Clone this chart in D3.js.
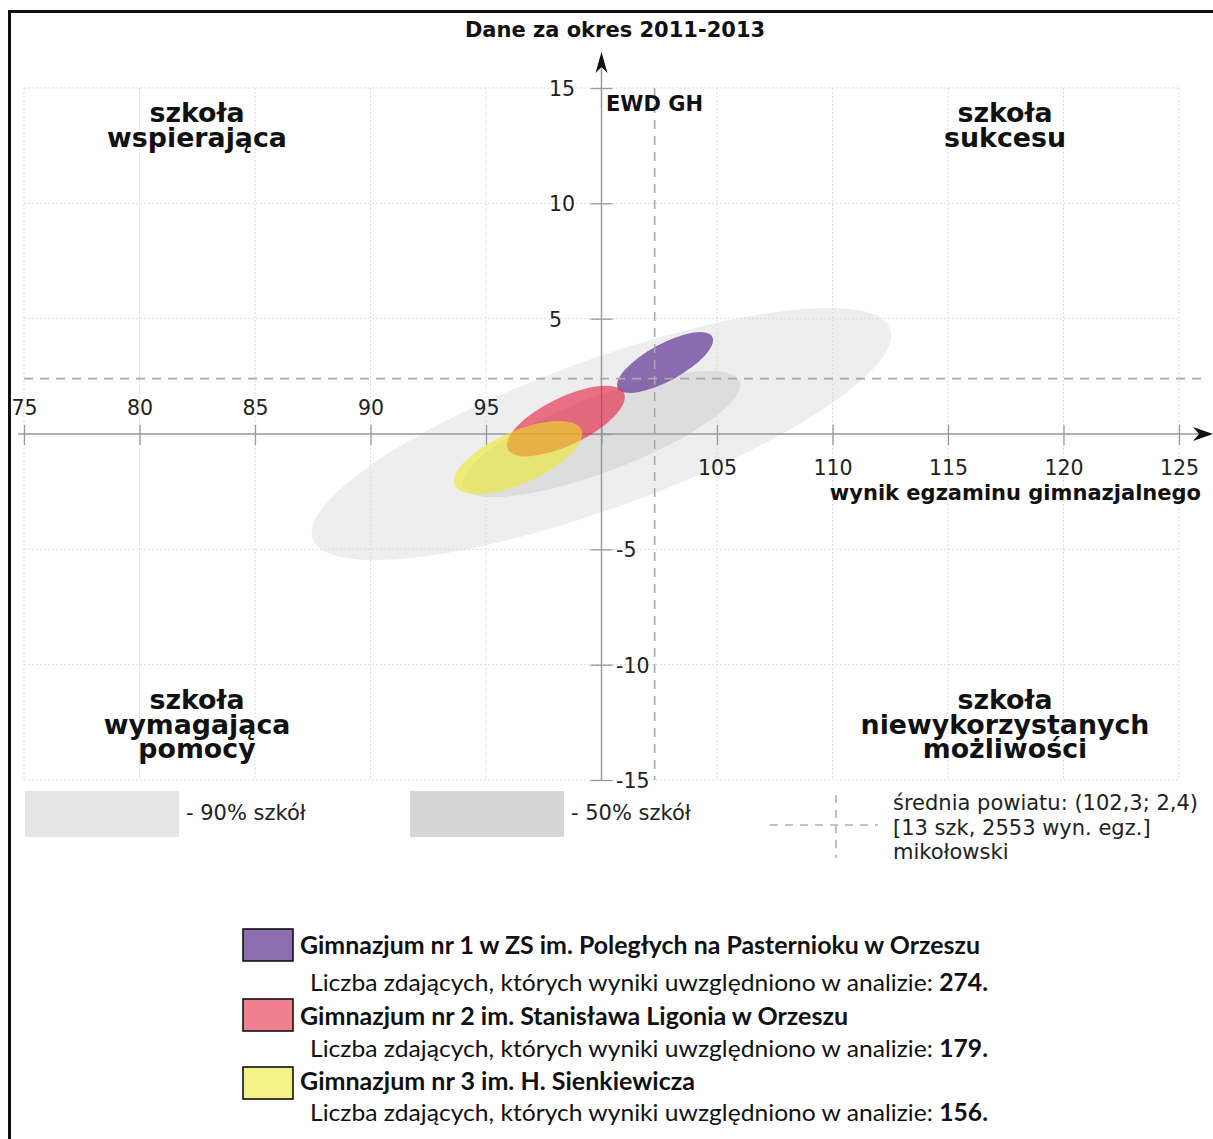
<!DOCTYPE html>
<html>
<head>
<meta charset="utf-8">
<script src="https://cdn.jsdelivr.net/npm/d3@7"></script>
<style>
  html, body { margin: 0; padding: 0; background: #fff; }
  svg { display: block; }
</style>
</head>
<body>
<div id="chart"></div>
<script>
// ---------- DATA ----------
const title = "Dane za okres 2011-2013";
const xAxisLabel = "wynik egzaminu gimnazjalnego";
const yAxisLabel = "EWD GH";
const xTickValues = [75, 80, 85, 90, 95, 100, 105, 110, 115, 120, 125];
const yTickValues = [-15, -10, -5, 0, 5, 10, 15];
const quadrantLabels = [
  { lines: ["szkoła", "wspierająca"], qx: -1, qy: 1 },
  { lines: ["szkoła", "sukcesu"], qx: 1, qy: 1 },
  { lines: ["szkoła", "wymagająca", "pomocy"], qx: -1, qy: -1 },
  { lines: ["szkoła", "niewykorzystanych", "możliwości"], qx: 1, qy: -1 }
];
// reference ellipses (all schools) : center, semi-axes (data units), rotation (deg)
const bandNames   = ["- 90% szkół", "- 50% szkół"];
const bandCx      = [100, 100];
const bandCy      = [0, 0];
const bandA       = [13.3, 6.4];
const bandB       = [3.2, 1.62];
const bandAngle   = [20, 20.8];
// schools
const schoolNames  = [
  "Gimnazjum nr 1 w ZS im. Poległych na Pasternioku w Orzeszu",
  "Gimnazjum nr 2 im. Stanisława Ligonia w Orzeszu",
  "Gimnazjum nr 3 im. H. Sienkiewicza"
];
const schoolCounts = [274, 179, 156];
const schoolCx     = [102.75, 98.46, 96.39];
const schoolCy     = [3.1, 0.56, -1.02];
const schoolA      = [2.33, 2.79, 2.99];
const schoolB      = [0.8, 1.03, 1.13];
const schoolAngle  = [28.7, 25.8, 23.7];
// county mean
const meanX = 102.3, meanY = 2.4;
const meanLines = ["średnia powiatu: (102,3; 2,4)", "[13 szk, 2553 wyn. egz.]", "mikołowski"];
const countPrefix = "Liczba zdających, których wyniki uwzględniono w analizie: ";

// ---------- STYLE ----------
const W = 1213, H = 1139;
const bandFill = ["#eeeeee", "#dddddd"];
const bandLegendFill = ["#e5e5e5", "#d6d6d6"];
const schoolFill = ["rgba(120,83,165,0.85)", "rgba(230,27,64,0.6)", "rgba(237,235,28,0.55)"];
const schoolSwatch = ["#8c6eb0", "#f0808f", "#f5f28a"];
const FONT = "'DejaVu Sans', sans-serif";

const svg = d3.select("#chart").append("svg").attr("width", W).attr("height", H)
  .style("font-family", FONT);
svg.append("rect").attr("width", W).attr("height", H).attr("fill", "#fff");

const x = d3.scaleLinear().domain([75, 125]).range([24, 1179]);
const y = d3.scaleLinear().domain([-15, 15]).range([780, 88]);
const pxPerUnit = x(1) - x(0);

// frame
svg.append("path").attr("d", `M9.5,${H} V11.5 H${W}`).attr("fill", "none")
  .attr("stroke", "#111").attr("stroke-width", 3);

// band ellipses
bandNames.forEach((n, i) => {
  svg.append("ellipse")
    .attr("cx", x(bandCx[i])).attr("cy", y(bandCy[i]))
    .attr("rx", bandA[i] * pxPerUnit).attr("ry", bandB[i] * pxPerUnit)
    .attr("transform", `rotate(${-bandAngle[i]},${x(bandCx[i])},${y(bandCy[i])})`)
    .attr("fill", bandFill[i]);
});

// grid
const grid = svg.append("g").attr("stroke", "#dcdcdc").attr("stroke-width", 1)
  .attr("stroke-dasharray", "2,2");
xTickValues.forEach(v => grid.append("line").attr("x1", x(v)).attr("x2", x(v))
  .attr("y1", y(15)).attr("y2", y(-15)));
yTickValues.forEach(v => grid.append("line").attr("x1", x(75)).attr("x2", x(125))
  .attr("y1", y(v)).attr("y2", y(v)));

// axes main lines
const axisColor = "#9a9a9a";
svg.append("line").attr("x1", x(100)).attr("x2", x(100)).attr("y1", y(-15)).attr("y2", 64)
  .attr("stroke", axisColor).attr("stroke-width", 1.5);
svg.append("line").attr("x1", 18).attr("x2", 1202).attr("y1", y(0)).attr("y2", y(0))
  .attr("stroke", axisColor).attr("stroke-width", 1.5);
// arrow heads
const ax = x(100);
svg.append("path").attr("d", `M${ax},52 L${ax + 6},73 L${ax},67 L${ax - 6},73 Z`).attr("fill", "#111");
const ay = y(0);
svg.append("path").attr("d", `M1213,${ay} L1193,${ay - 7} L1199,${ay} L1193,${ay + 7} Z`).attr("fill", "#111");

// x axis ticks via d3 axis
const gx = svg.append("g").attr("transform", `translate(0,${y(0) - 9})`)
  .call(d3.axisBottom(x).tickValues(xTickValues).tickSize(20).tickSizeOuter(0)
    .tickFormat(d => d === 100 ? "" : d));
gx.select(".domain").remove();
gx.selectAll(".tick line").attr("stroke", axisColor).attr("stroke-width", 1.3);
gx.selectAll(".tick text").attr("font-family", FONT).attr("font-size", 20.5).attr("fill", "#222")
  .attr("dy", 0).attr("y", d => d < 100 ? -10 : 50);

// y axis ticks via d3 axis
const gy = svg.append("g").attr("transform", `translate(${x(100) + 11},0)`)
  .call(d3.axisLeft(y).tickValues(yTickValues).tickSize(22).tickSizeOuter(0)
    .tickFormat(d => d === 0 ? "" : d));
gy.select(".domain").remove();
gy.selectAll(".tick line").attr("stroke", axisColor).attr("stroke-width", 1.3);
gy.selectAll(".tick text").attr("font-family", FONT).attr("font-size", 20.5).attr("fill", "#222")
  .attr("text-anchor", "start").attr("dy", "0.36em")
  .attr("x", d => d > 0 ? 549 - (x(100) + 11) : 616 - (x(100) + 11));

// school ellipses
schoolNames.forEach((n, i) => {
  svg.append("ellipse")
    .attr("cx", x(schoolCx[i])).attr("cy", y(schoolCy[i]))
    .attr("rx", schoolA[i] * pxPerUnit).attr("ry", schoolB[i] * pxPerUnit)
    .attr("transform", `rotate(${-schoolAngle[i]},${x(schoolCx[i])},${y(schoolCy[i])})`)
    .attr("fill", schoolFill[i]);
});

// county mean dashed lines
svg.append("line").attr("x1", x(meanX)).attr("x2", x(meanX)).attr("y1", y(15)).attr("y2", y(-15))
  .attr("stroke", "#a8a8a8").attr("stroke-width", 1.6).attr("stroke-dasharray", "9,7");
svg.append("line").attr("x1", x(75)).attr("x2", 1202).attr("y1", y(meanY)).attr("y2", y(meanY))
  .attr("stroke", "#a8a8a8").attr("stroke-width", 1.6).attr("stroke-dasharray", "9,7");

// titles
svg.append("text").attr("x", 615).attr("y", 37).attr("text-anchor", "middle")
  .attr("font-weight", "bold").attr("font-size", 21).attr("fill", "#111").text(title);
svg.append("text").attr("x", 606).attr("y", 111)
  .attr("font-weight", "bold").attr("font-size", 21).attr("fill", "#111").text(yAxisLabel);
svg.append("text").attr("x", 1201).attr("y", 500).attr("text-anchor", "end")
  .attr("font-weight", "bold").attr("font-size", 21).attr("fill", "#111").text(xAxisLabel);

// quadrant labels
quadrantLabels.forEach(q => {
  const cx = q.qx < 0 ? 197 : 1005;
  const base = q.qy > 0 ? 122 : 709;
  const t = svg.append("text").attr("text-anchor", "middle").attr("font-weight", "bold")
    .attr("font-size", 26.8).attr("fill", "#111");
  q.lines.forEach((l, j) => t.append("tspan").attr("x", cx).attr("y", base + j * 24.5).text(l));
});

// band legend
const bandLegendX = [25, 410];
bandNames.forEach((n, i) => {
  svg.append("rect").attr("x", bandLegendX[i]).attr("y", 791).attr("width", 154).attr("height", 46)
    .attr("fill", bandLegendFill[i]);
  svg.append("text").attr("x", bandLegendX[i] + 161).attr("y", 820).attr("font-size", 21)
    .attr("fill", "#222").text(n);
});
// mean legend
const mg = svg.append("g").attr("stroke", "#b0b0b0").attr("stroke-width", 1.6).attr("stroke-dasharray", "8,7");
mg.append("line").attr("x1", 770).attr("x2", 878).attr("y1", 825).attr("y2", 825);
mg.append("line").attr("x1", 836).attr("x2", 836).attr("y1", 795).attr("y2", 858);
meanLines.forEach((l, j) => svg.append("text").attr("x", 893).attr("y", 810 + j * 24.5)
  .attr("font-size", 21).attr("fill", "#222").text(l));

// school legend
const rowBase = [954, 1025, 1090];
const countBase = [991, 1057, 1121];
const swatchY = [929, 999, 1067];
const nameWidth = [680, 548, 395];
schoolNames.forEach((n, i) => {
  svg.append("rect").attr("x", 243).attr("y", swatchY[i]).attr("width", 50).attr("height", 32)
    .attr("fill", schoolSwatch[i]).attr("stroke", "#111").attr("stroke-width", 1.6);
  svg.append("text").attr("x", 300).attr("y", rowBase[i])
    .attr("font-family", "Lato, 'Open Sans', sans-serif").attr("font-weight", "bold")
    .attr("font-size", 24).attr("fill", "#111")
    .attr("textLength", nameWidth[i]).attr("lengthAdjust", "spacingAndGlyphs").text(n);
  const t = svg.append("text").attr("x", 310).attr("y", countBase[i])
    .attr("font-family", "Lato, 'Open Sans', sans-serif")
    .attr("font-size", 24).attr("fill", "#111")
    .attr("textLength", 678).attr("lengthAdjust", "spacingAndGlyphs");
  t.append("tspan").text(countPrefix);
  t.append("tspan").attr("font-weight", "bold").text(schoolCounts[i] + ".");
});
</script>
</body>
</html>
